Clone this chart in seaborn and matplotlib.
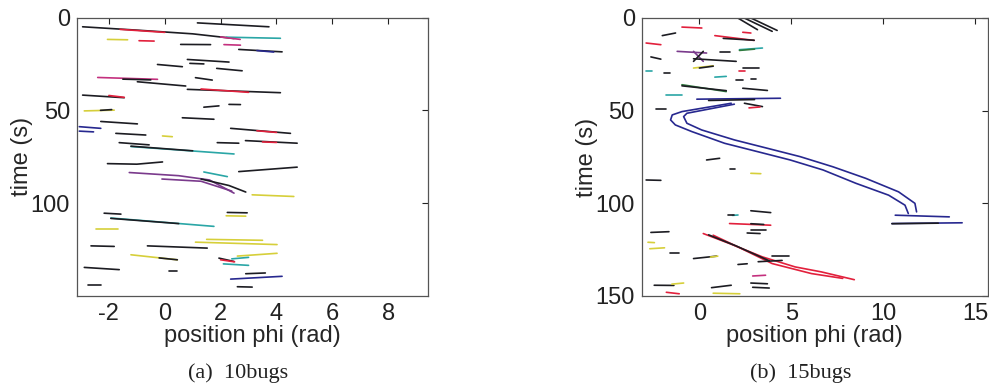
import numpy as np
import pandas as pd
import matplotlib
matplotlib.use("Agg")
import matplotlib.pyplot as plt
import seaborn as sns

# ---------------- data: panel (a) 10bugs ----------------
A_X = [
    [-2.94, -1.0, 1.0, 2.48], [-1.6, 0.0], [2.2, 4.14], [2.0, 2.7],
    [1.17, 3.73], [-2.05, -1.33], [-0.92, -0.38], [0.57, 1.64], [2.12, 2.71],
    [2.65, 4.2], [3.3, 3.9], [0.81, 2.3], [0.9, 1.4], [-0.26, 0.63], [1.86, 2.77],
    [-2.4, -0.26], [-1.5, -0.5], [-0.98, 0.75], [1.1, 1.7],
    [0.81, 4.14], [1.3, 3.0], [-2.94, -1.45], [-2.0, -1.45],
    [-2.88, -1.81], [-2.3, -1.9], [1.4, 1.94], [2.3, 2.71], [0.63, 1.76],
    [-2.29, -0.98], [-3.06, -2.29], [-3.06, -2.55], [-1.75, -0.68], [-0.08, 0.27],
    [2.36, 4.5], [3.3, 4.0], [-1.63, -0.56], [-1.21, 2.48], [-1.21, 1.0],
    [1.88, 2.65], [2.89, 4.74], [3.5, 4.0], [-2.05, -1.0, -0.08], [2.65, 4.74],
    [-1.27, 0.5, 1.6, 2.48], [-0.1, 1.3, 2.4], [1.3, 2.3, 2.9], [1.4, 2.24],
    [3.13, 4.62], [-2.17, -1.57], [-1.93, 1.76], [-1.93, 0.5], [2.24, 2.95],
    [2.2, 2.9], [-2.46, -1.69], [-2.64, -1.81], [-0.62, 1.52], [1.1, 4.02],
    [1.5, 3.5], [-1.21, 0.45], [-0.2, 0.45], [1.94, 2.48], [2.0, 2.5],
    [2.1, 3.0], [2.6, 4.02], [2.4, 3.0], [-2.88, -1.63], [0.15, 0.45],
    [2.36, 4.2], [2.9, 3.6], [-2.76, -2.29], [2.6, 3.13],
]
A_Y = [
    [5.0, 6.8, 8.8, 11.3], [6.4, 8.0], [10.6, 11.2], [10.5, 11.8],
    [2.9, 5.0], [11.8, 12.0], [12.5, 12.7], [14.5, 14.6], [14.6, 14.9],
    [17.2, 18.5], [17.8, 18.6], [22.6, 24.0], [24.7, 25.0], [25.3, 26.5], [27.4, 28.7],
    [32.3, 33.3], [33.2, 33.6], [34.6, 36.9], [32.4, 33.7],
    [38.7, 40.5], [38.5, 40.3], [41.8, 43.2], [42.0, 43.0],
    [50.3, 49.9], [50.0, 49.6], [48.3, 47.6], [46.8, 46.9], [54.0, 54.8],
    [56.0, 57.3], [58.8, 59.7], [61.2, 61.6], [62.4, 63.3], [63.8, 64.2],
    [59.7, 62.4], [61.0, 61.9], [67.4, 68.6], [69.5, 73.5], [69.3, 71.8],
    [67.4, 67.7], [66.3, 67.7], [67.0, 67.3], [78.7, 79.0, 77.8], [83.0, 80.6],
    [83.5, 85.2, 87.5, 94.6], [87.0, 88.2, 93.5], [87.0, 90.5, 94.0], [83.2, 85.7],
    [95.5, 96.4], [105.4, 105.9], [108.0, 112.5], [108.2, 111.0], [105.0, 105.2],
    [106.8, 107.0], [114.0, 114.0], [123.0, 123.3], [123.0, 124.2], [121.0, 122.3],
    [119.5, 120.0], [127.8, 130.5], [129.5, 130.5], [129.6, 131.4], [130.5, 131.6],
    [132.7, 133.5], [128.5, 127.0], [130.0, 129.2], [134.6, 135.8], [136.7, 136.7],
    [140.9, 139.4], [138.0, 137.6], [143.9, 143.9], [145.0, 145.2],
]
A_KIND = [
    "k", "r", "c", "m",
    "k", "y", "r", "k", "m",
    "k", "b", "k", "k", "k", "k",
    "m", "k", "k", "k",
    "k", "r", "k", "r",
    "y", "k", "k", "k", "k",
    "k", "b", "b", "k", "y",
    "k", "r", "k", "c", "k",
    "k", "k", "r", "k", "k",
    "p", "p", "k", "c",
    "y", "k", "c", "k", "k",
    "y", "y", "k", "k", "y",
    "y", "y", "k", "k", "r",
    "c", "y", "c", "k", "k",
    "b", "k", "k", "k",
]

# ---------------- data: panel (b) 15bugs ----------------
B_X = [
    [2.09, 3.16], [2.44, 3.96], [2.8, 4.23],
    [-0.95, 0.13], [-2.02, -1.3], [2.36, 2.8], [0.84, 2.98], [1.3, 2.98],
    [-2.9, -2.1], [-1.21, 0.39], [-0.32, 0.21], [0.21, -0.32], [1.1, 1.64],
    [2.18, 3.43], [2.18, 3.0], [-2.64, -2.1], [-0.32, 2.0], [-0.32, 0.75], [0.0, 0.75],
    [-2.9, -2.6], [-1.94, -1.58], [2.36, 3.25], [2.16, 2.5], [0.84, 1.46],
    [2.0, 2.36], [2.8, 3.07], [-0.95, 1.46], [-0.95, 1.46], [2.36, 3.7],
    [-1.84, -0.95], [-0.14, 4.41], [0.5, 3.0], [2.45, 3.43], [2.7, 3.3],
    [-2.38, -1.84],
    [1.73, -0.95, -1.48, -1.57, -1.31, -0.41, 1.37, 3.16, 4.94, 6.73, 8.52, 10.3, 11.19, 11.37],
    [1.9, -0.68, -0.86, -0.68, 0.12, 1.91, 3.7, 5.48, 7.27, 9.05, 10.84, 11.73, 11.82],
    [10.66, 13.6], [10.48, 14.3], [10.48, 13.0],
    [0.39, 1.1], [1.64, 1.91], [2.8, 3.34], [-2.9, -2.1], [2.8, 3.88], [1.8, 2.1],
    [1.55, 1.9], [1.64, 3.88], [2.8, 3.5], [2.8, 3.6], [-2.64, -1.66], [2.6, 3.3],
    [-2.8, -2.45], [-2.7, -1.9], [-1.58, -1.13], [-0.32, 0.93], [0.6, 1.0],
    [2.1, 2.6], [2.9, 3.6], [-2.46, -1.39], [-1.5, -0.86], [2.8, 3.7], [2.9, 3.8],
    [0.66, 1.73], [0.75, 2.2], [-1.8, -1.1],
    [0.21, 1.64, 3.43, 5.21, 6.64, 8.43], [0.75, 2.2, 3.96, 6.1, 7.8],
    [0.5, 2.0, 3.8], [3.96, 4.86], [3.2, 4.5],
]
B_Y = [
    [0.0, 6.3], [0.0, 7.2], [0.0, 6.7],
    [4.9, 5.4], [9.5, 8.1], [7.7, 8.1], [9.5, 12.1], [11.0, 12.0],
    [13.5, 14.4], [18.0, 18.9], [18.0, 23.4], [18.0, 23.4], [18.5, 18.5],
    [17.1, 16.2], [17.5, 16.8], [21.0, 22.2], [22.0, 23.4], [27.0, 25.8], [27.0, 26.0],
    [28.8, 28.8], [29.7, 29.7], [27.0, 27.0], [28.8, 28.8], [31.9, 31.5],
    [33.3, 33.3], [32.8, 32.8], [36.0, 39.7], [36.6, 39.2], [37.9, 39.1],
    [41.5, 41.5], [43.8, 43.3], [44.5, 44.0], [46.0, 47.8], [48.5, 48.0],
    [49.2, 49.2],
    [46.0, 50.5, 52.3, 55.0, 57.7, 61.3, 67.6, 72.1, 76.6, 82.0, 89.2, 95.6, 101.0, 105.5],
    [46.5, 51.4, 53.2, 56.8, 60.4, 65.8, 70.3, 74.8, 80.3, 86.5, 93.8, 100.0, 104.6],
    [106.4, 107.3], [110.9, 110.5], [111.0, 110.7],
    [76.6, 75.7], [81.5, 81.5], [83.8, 84.0], [87.4, 87.6], [104.0, 105.0], [106.5, 106.3],
    [106.4, 106.4], [110.9, 111.8], [111.0, 111.4], [114.5, 114.5], [115.7, 115.3], [116.0, 116.3],
    [121.0, 121.2], [124.5, 124.0], [126.6, 126.6], [129.8, 128.5], [129.0, 128.5],
    [133.0, 132.6], [139.2, 138.8], [144.2, 144.3], [143.6, 143.0], [143.0, 143.4], [145.3, 145.7],
    [145.5, 144.2], [148.5, 148.8], [148.0, 148.8],
    [116.3, 121.7, 128.9, 134.3, 137.0, 141.2], [117.2, 124.0, 132.5, 137.9, 140.5],
    [117.0, 123.0, 131.0], [128.5, 128.5], [131.5, 130.8],
]
B_KIND = [
    "k", "k", "k",
    "r", "k", "r", "r", "k",
    "r", "p", "p", "k", "k",
    "c", "g", "k", "k", "y", "k",
    "c", "k", "k", "r", "c",
    "k", "k", "g", "k", "k",
    "c", "b", "k", "k", "r",
    "k",
    "b",
    "b",
    "b", "b", "k",
    "k", "k", "y", "k", "k", "c",
    "k", "r", "k", "k", "k", "k",
    "y", "y", "k", "k", "y",
    "k", "m", "k", "y", "k", "k",
    "k", "y", "r",
    "r", "r",
    "k", "k", "k",
]

XLABEL = "position phi (rad)"
YLABEL = "time (s)"
CAPTIONS = ["(a)  10bugs", "(b)  15bugs"]
A_XTICKS = [-2, 0, 2, 4, 6, 8]
B_XTICKS = [0, 5, 10, 15]
YTICKS_A = [0, 50, 100]
YTICKS_B = [0, 50, 100, 150]

PALETTE = {"k": "#1c1c22", "r": "#e2203c", "m": "#c4307e", "b": "#27288f",
           "c": "#2aa6a6", "y": "#d6cf3a", "p": "#7a3a8c", "g": "#2f7a3e"}


def to_frame(xs, ys, kinds):
    rows = []
    for i, (xx, yy, kk) in enumerate(zip(xs, ys, kinds)):
        for j, (x, y) in enumerate(zip(xx, yy)):
            rows.append({"track": i, "x": x, "y": y, "order": j, "kind": kk})
    return pd.DataFrame(rows)


sns.set_theme(style="white")
plt.rcParams["font.family"] = ["Liberation Sans", "DejaVu Sans"]
plt.rcParams["axes.unicode_minus"] = False

fig = plt.figure(figsize=(9.89, 3.88), dpi=100)
W, H = 989.0, 388.0
ax1 = fig.add_axes([77 / W, 1 - 296 / H, (428 - 77) / W, (296 - 17.5) / H])
ax2 = fig.add_axes([641.7 / W, 1 - 296 / H, (988 - 641.7) / W, (296 - 18) / H])

for ax, xs, ys, kinds, xlim, xticks, yticks, ylim in [
    (ax1, A_X, A_Y, A_KIND, (-np.pi, 3 * np.pi), A_XTICKS, YTICKS_A, (150, 0)),
    (ax2, B_X, B_Y, B_KIND, (-np.pi, 5 * np.pi), B_XTICKS, YTICKS_B, (150, 0)),
]:
    df = to_frame(xs, ys, kinds)
    pal = {t: PALETTE[k] for t, k in zip(range(len(kinds)), kinds)}
    sns.lineplot(data=df, x="x", y="y", hue="track", units="track", estimator=None,
                 sort=False, palette=pal, legend=False, linewidth=1.2, ax=ax)
    ax.set_xlim(*xlim)
    ax.set_ylim(*ylim)
    ax.set_xticks(xticks)
    ax.set_yticks(yticks)
    ax.set_xlabel(XLABEL, fontsize=17, labelpad=0)
    ax.set_ylabel(YLABEL, fontsize=17, labelpad=-2)
    ax.tick_params(direction="in", top=True, right=True, length=4, width=0.8,
                   labelsize=17, pad=5, colors="#222222")
    for s in ax.spines.values():
        s.set_color("#555555")
        s.set_linewidth(0.9)

fig.text(238 / W, 1 - 373 / H, CAPTIONS[0], ha="center", va="center",
         fontsize=16, family=["Liberation Serif", "DejaVu Serif"], color="#222222")
fig.text(801 / W, 1 - 373 / H, CAPTIONS[1], ha="center", va="center",
         fontsize=16, family=["Liberation Serif", "DejaVu Serif"], color="#222222")

fig.savefig("out.png", dpi=100)
